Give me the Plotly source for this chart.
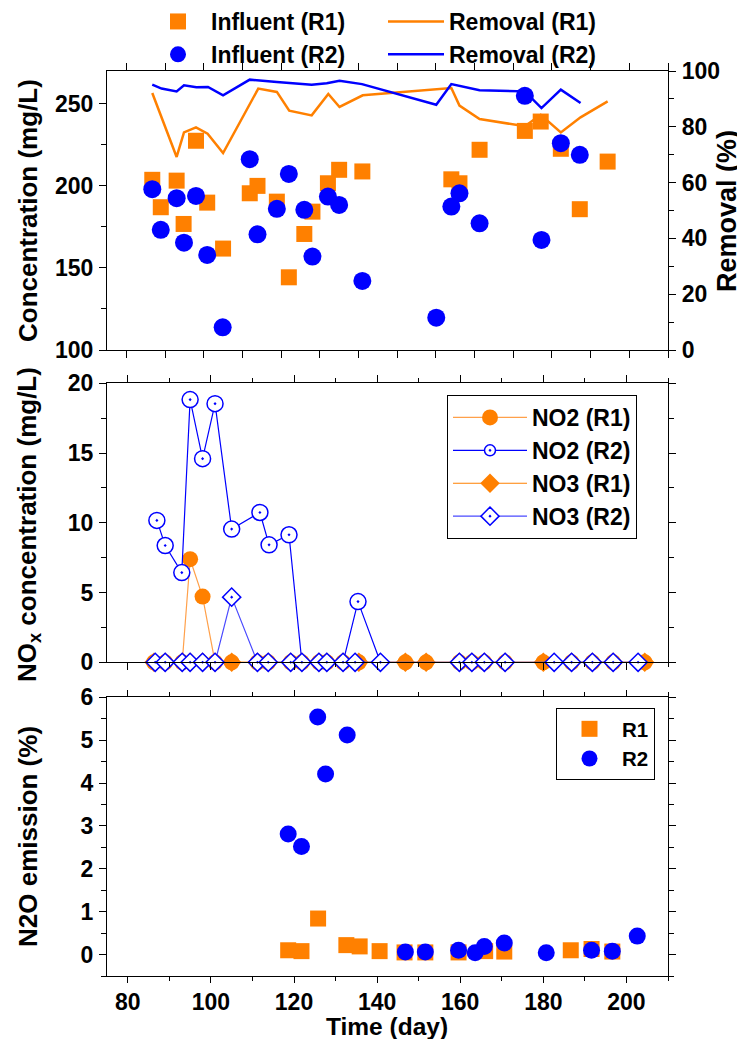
import plotly.graph_objects as go

# ---------------- data ----------------
# Top panel: influent concentration (mg/L) and removal (%)
inf_r1_day = [86.7, 88.9, 93.0, 94.8, 98.0, 100.9, 105.0, 111.9, 113.9, 118.9, 122.0, 126.0,
              128.1, 132.1, 135.0, 141.0, 164.0, 166.1, 171.3, 183.0, 187.1, 192.3, 197.2, 204.4]
inf_r1 = [203.7, 187.0, 203.2, 176.8, 227.5, 189.8, 161.8, 195.5, 200.0, 190.4, 144.3, 170.7,
          184.3, 201.6, 209.8, 208.8, 204.0, 201.6, 222.0, 233.5, 239.2, 222.6, 185.8, 214.8]
inf_r2_day = [86.7, 88.9, 93.0, 94.9, 98.0, 100.9, 104.9, 111.9, 113.9, 118.9, 122.0, 126.0,
              128.1, 132.1, 135.0, 141.0, 160.1, 164.0, 166.1, 171.3, 183.0, 187.3, 192.3, 197.2]
inf_r2 = [198.0, 173.2, 192.5, 165.4, 193.9, 157.9, 113.8, 216.3, 170.5, 186.0, 207.3, 185.4,
          156.9, 193.5, 188.4, 142.1, 119.7, 187.4, 195.5, 177.2, 254.9, 167.1, 226.0, 218.9]
rem_r1_day = [86.7, 93.0, 94.9, 98.0, 101.0, 105.0, 114.1, 118.9, 122.1, 127.9, 132.2, 135.1,
              141.1, 164.0, 166.1, 171.3, 183.0, 187.1, 192.3, 197.4, 204.4]
rem_r1 = [92.1, 69.2, 78.0, 79.8, 77.5, 70.6, 93.7, 92.5, 85.8, 84.1, 91.8, 87.1,
          91.3, 93.9, 87.6, 82.8, 80.2, 84.3, 78.0, 83.4, 89.1]
rem_r2_day = [86.7, 89.1, 93.0, 94.9, 98.1, 101.1, 105.0, 111.9, 118.9, 127.9, 131.8, 135.1,
              140.9, 160.1, 164.0, 171.3, 183.0, 187.3, 192.3, 197.4]
rem_r2 = [95.1, 93.7, 92.7, 94.9, 94.2, 94.3, 91.3, 96.9, 96.1, 95.1, 95.6, 96.5,
          95.3, 87.9, 95.3, 93.1, 92.7, 86.7, 93.3, 88.5]

# Middle panel: NOx concentration (mg/L)
r1_nox_day = [86.3, 89.0, 93.1, 95.0, 98.0, 101.0, 105.0, 111.2, 113.8, 119.2, 121.9, 126.0, 127.9,
              131.8, 135.6, 146.8, 151.8, 159.8, 162.8, 165.8, 170.8, 180.0, 186.8, 191.8, 196.8, 204.4]
no2_r1 = [0, 0, 0, 7.39, 4.71, 0, 0, 0, 0, 0, 0, 0, 0,
          0, 0, 0, 0, 0, 0, 0, 0, 0, 0, 0, 0, 0]
no3_r1 = [0, 0, 0, 0, 0, 0, 0, 0, 0, 0, 0, 0, 0,
          0, 0, 0, 0, 0, 0, 0, 0, 0, 0, 0, 0, 0]
no2_r2_day = [87.0, 89.0, 93.0, 95.0, 98.0, 101.0, 105.0, 111.8, 114.0, 118.8, 121.9, 126.0,
              127.9, 131.8, 135.4, 140.8]
no2_r2 = [10.17, 8.37, 6.43, 18.83, 14.6, 18.54, 9.55, 10.74, 8.42, 9.14, 0, 0,
          0, 0, 4.35, 0]
no3_r2_day = [86.6, 89.0, 93.1, 95.0, 98.0, 101.0, 105.0, 111.2, 113.8, 119.2, 121.9, 126.0, 127.9,
              131.8, 134.7, 140.8, 159.8, 162.8, 165.8, 170.8, 182.6, 186.8, 191.8, 196.8, 202.8]
no3_r2 = [0, 0, 0, 0, 0, 0, 4.67, 0, 0, 0, 0, 0, 0,
          0, 0, 0, 0, 0, 0, 0, 0, 0, 0, 0, 0]

# Bottom panel: N2O emission (%)
n2o_r1_day = [118.6, 121.8, 125.8, 132.6, 135.8, 140.6, 146.6, 151.6, 159.6, 166.0, 170.6,
              186.6, 191.6, 196.6]
n2o_r1 = [0.10, 0.08, 0.84, 0.22, 0.19, 0.08, 0.05, 0.05, 0.05, 0.08, 0.07, 0.10, 0.13, 0.07]
n2o_r2_day = [118.6, 121.8, 125.7, 127.6, 132.8, 146.8, 151.6, 159.6, 163.6, 165.8, 170.6,
              180.7, 191.6, 196.6, 202.6]
n2o_r2 = [2.81, 2.52, 5.54, 4.21, 5.12, 0.06, 0.06, 0.10, 0.04, 0.19, 0.27, 0.04, 0.10, 0.08, 0.43]

# ---------------- styling ----------------
ORANGE = "#FF8000"
BLUE = "#0000FF"
FONT = "Liberation Sans, Arial, sans-serif"
PAGE_OFF = 8  # default body margin of the html page
W, H = 745 - PAGE_OFF, 1039 - PAGE_OFF
L, R, T, B = 107 - PAGE_OFF, 77, 71 - PAGE_OFF, 63
PW, PH = W - L - R, H - T - B


def py(px):  # page pixel y -> paper
    return (H - B - (px - PAGE_OFF)) / PH


def pxx(px):  # page pixel x -> paper
    return (px - PAGE_OFF - L) / PW


fig = go.Figure()

# top panel
fig.add_trace(go.Scatter(x=inf_r1_day, y=inf_r1, mode="markers", name="Influent (R1)",
                         marker=dict(symbol="square", size=16, color=ORANGE),
                         xaxis="x", yaxis="y", legend="legend", legendrank=1))
fig.add_trace(go.Scatter(x=inf_r2_day, y=inf_r2, mode="markers", name="Influent (R2)",
                         marker=dict(symbol="circle", size=18, color=BLUE),
                         xaxis="x", yaxis="y", legend="legend", legendrank=3))
fig.add_trace(go.Scatter(x=rem_r1_day, y=rem_r1, mode="lines", name="Removal (R1)",
                         line=dict(color=ORANGE, width=2.5),
                         xaxis="x", yaxis="y2", legend="legend", legendrank=2))
fig.add_trace(go.Scatter(x=rem_r2_day, y=rem_r2, mode="lines", name="Removal (R2)",
                         line=dict(color=BLUE, width=2.5),
                         xaxis="x", yaxis="y2", legend="legend", legendrank=4))

# middle panel
fig.add_trace(go.Scatter(x=r1_nox_day, y=no2_r1, mode="lines+markers", name="NO2 (R1)",
                         line=dict(color="#FFA04A", width=1.2),
                         marker=dict(symbol="circle", size=16, color=ORANGE, opacity=1),
                         cliponaxis=False, xaxis="x2", yaxis="y3", legend="legend2"))
fig.add_trace(go.Scatter(x=no2_r2_day, y=no2_r2, mode="lines+markers", name="NO2 (R2)",
                         line=dict(color=BLUE, width=1.2),
                         marker=dict(symbol="circle-dot", size=[16 if v > 0 else 0 for v in no2_r2],
                                     color="white", opacity=1, line=dict(color=BLUE, width=1.5)),
                         cliponaxis=False, xaxis="x2", yaxis="y3", legend="legend2"))
fig.add_trace(go.Scatter(x=r1_nox_day, y=no3_r1, mode="lines+markers", name="NO3 (R1)",
                         line=dict(color=ORANGE, width=1.2),
                         marker=dict(symbol="diamond", size=15, color=ORANGE),
                         cliponaxis=False, xaxis="x2", yaxis="y3", legend="legend2"))
fig.add_trace(go.Scatter(x=no3_r2_day, y=no3_r2, mode="lines+markers", name="NO3 (R2)",
                         line=dict(color="#4A4AFF", width=1.2),
                         marker=dict(symbol="diamond-dot", size=14, color="white",
                                     line=dict(color=BLUE, width=1.5)),
                         cliponaxis=False, xaxis="x2", yaxis="y3", legend="legend2"))

# bottom panel
fig.add_trace(go.Scatter(x=n2o_r1_day, y=n2o_r1, mode="markers", name="R1",
                         marker=dict(symbol="square", size=16, color=ORANGE),
                         xaxis="x3", yaxis="y4", legend="legend3"))
fig.add_trace(go.Scatter(x=n2o_r2_day, y=n2o_r2, mode="markers", name="R2",
                         marker=dict(symbol="circle", size=17, color=BLUE),
                         xaxis="x3", yaxis="y4", legend="legend3"))

tickfont = dict(family=FONT, size=23, color="black", weight="bold")
titlefont = dict(family=FONT, size=26, color="black", weight="bold")

axcommon = dict(showgrid=False, zeroline=False, showline=True, linecolor="black", linewidth=1.2,
                ticks="outside", ticklen=7, tickwidth=1.2, tickcolor="black", tickfont=tickfont,
                ticklabelstandoff=1)

top_dom = [py(350), 1.0]
mid_dom = [py(662.3), py(383.3)]
bot_dom = [0.0, py(697.3)]

annots = [
    dict(text="Concentration (mg/L)", x=pxx(28), y=py(211), textangle=-90, size=26),
    dict(text="Removal (%)", x=pxx(727), y=py(211), textangle=-90, size=27),
    dict(text="NO<sub>x</sub> concentration (mg/L)", x=pxx(28), y=py(525), textangle=-90, size=26),
    dict(text="N2O emission (%)", x=pxx(28), y=py(837), textangle=-90, size=26),
    dict(text="Time (day)", x=pxx(387), y=py(1026.5), textangle=0, size=24.5),
]
for a in annots:
    sz = a.pop("size")
    a.update(xref="paper", yref="paper", xanchor="center", yanchor="middle",
             showarrow=False, font=dict(titlefont, size=sz))

fig.update_layout(
    width=W, height=H, margin=dict(l=L, r=R, t=T, b=B, autoexpand=False),
    paper_bgcolor="white", plot_bgcolor="white", showlegend=True,
    xaxis=dict(axcommon, domain=[0, 1], anchor="y", range=[75, 220], tick0=80, dtick=10,
               showticklabels=False, mirror="ticks"),
    yaxis=dict(axcommon, domain=top_dom, anchor="x", range=[100, 270], tickvals=[100, 150, 200, 250],
               minor=dict(tickvals=[125, 175, 225], ticklen=5, tickcolor="black", ticks="outside")),
    yaxis2=dict(axcommon, overlaying="y", side="right", anchor="x", range=[0, 100], dtick=20,
                minor=dict(dtick=10, ticklen=5, tickcolor="black", ticks="outside")),
    xaxis2=dict(axcommon, domain=[0, 1], anchor="y3", range=[75, 210], tick0=80, dtick=20,
                showticklabels=False, mirror="ticks",
                minor=dict(dtick=10, ticklen=4, tickcolor="black", ticks="outside")),
    yaxis3=dict(axcommon, domain=mid_dom, anchor="x2", range=[0, 20], dtick=5, mirror="ticks",
                minor=dict(dtick=2.5, ticklen=5, tickcolor="black", ticks="outside")),
    xaxis3=dict(axcommon, domain=[0, 1], anchor="y4", range=[75, 210], tick0=80, dtick=20,
                mirror="ticks", ticklen=6, ticklabelstandoff=-1,
                minor=dict(dtick=10, ticklen=4, tickcolor="black", ticks="outside")),
    yaxis4=dict(axcommon, domain=bot_dom, anchor="x3", range=[-0.5, 6], dtick=1, mirror="ticks",
                minor=dict(dtick=0.5, ticklen=5, tickcolor="black", ticks="outside")),
    legend=dict(orientation="h", x=pxx(145), y=py(0), xanchor="left", yanchor="top",
                entrywidth=167, entrywidthmode="pixels", itemwidth=56,
                font=dict(family=FONT, size=23, color="black", weight="bold"),
                bgcolor="rgba(0,0,0,0)", borderwidth=0, traceorder="normal"),
    legend2=dict(x=pxx(447), y=py(395), xanchor="left", yanchor="top",
                 font=dict(family=FONT, size=23, color="black", weight="bold"),
                 bgcolor="white", bordercolor="black", borderwidth=1, itemwidth=74,
                 tracegroupgap=0),
    legend3=dict(x=pxx(556), y=py(708), xanchor="left", yanchor="top",
                 font=dict(family=FONT, size=20.5, color="black", weight="bold"),
                 bgcolor="white", bordercolor="black", borderwidth=1, itemwidth=55),
    annotations=annots,
)

fig.write_html("out.html")
